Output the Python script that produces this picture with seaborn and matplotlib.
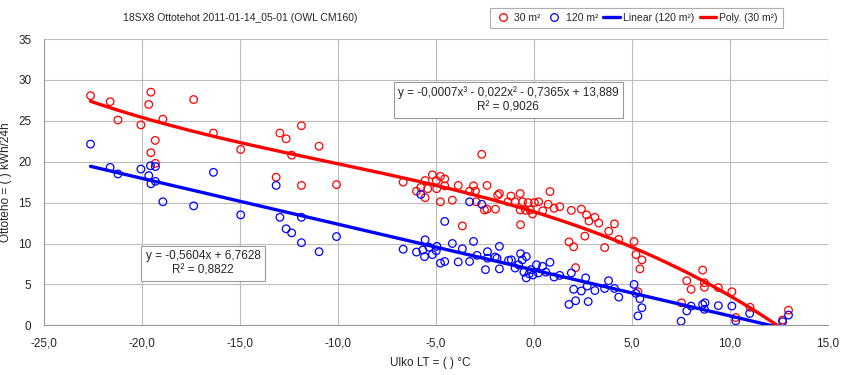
import numpy as np
import pandas as pd
import matplotlib
matplotlib.use("Agg")
import matplotlib.pyplot as plt
from matplotlib.lines import Line2D
import seaborn as sns

# ---------------- data ----------------
red_x = [-22.61, -21.61, -21.21, -19.53, -19.64, -20.04, -18.92, -17.35, -19.31, -19.53, -19.3,
         -16.34, -14.95, -12.95, -12.63, -11.85, -12.35, -10.95, -13.14, -11.85, -10.06,
         -6.66, -5.98, -5.76, -5.54, -5.54, -5.41, -5.17, -4.97, -4.95, -4.76,
         -4.54, -4.54, -4.76, -4.15, -3.85, -3.27, -3.07, -2.97, -2.93, -2.65,
         -2.38, -2.51, -2.38, -1.95, -3.64, -1.84, -1.75, -1.31, -1.16, -0.95,
         -0.69, -0.69, -0.67, -0.57, -0.42, -0.28, -0.18, -0.06, 0.04, 0.25,
         0.46, 0.74, 0.83, 1.04, 1.33, 1.92, 2.43, 2.7, 2.82, 3.12,
         3.32, 2.61, 1.8, 2.04, 3.62, 3.83, 4.12, 4.34, 5.12, 5.22,
         5.52, 5.42, 2.14, 5.32,
         8.62, 7.81, 8.03, 8.71, 8.71, 9.42, 10.11, 7.54, 11.04, 10.31, 12.7, 13.0]
red_y = [28.07, 27.34, 25.1, 28.5, 27.0, 24.5, 25.2, 27.6, 22.6, 21.1, 19.8,
         23.5, 21.5, 23.5, 22.8, 24.4, 20.8, 21.9, 18.1, 17.1, 17.2,
         17.5, 16.4, 16.85, 17.7, 15.6, 16.7, 18.4, 17.7, 16.7, 18.2,
         17.9, 17.05, 15.1, 15.3, 17.1, 16.4, 17.05, 16.4, 15.1, 20.9,
         17.1, 14.1, 14.2, 14.2, 12.15, 15.9, 16.1, 15.1, 15.8, 15.1,
         16.1, 14.1, 12.3, 15.1, 14.05, 15.0, 14.1, 13.6, 15.0, 15.1,
         14.0, 14.8, 16.35, 14.3, 14.5, 14.05, 14.2, 13.5, 12.75, 13.2,
         12.5, 10.9, 10.2, 9.6, 9.5, 11.5, 12.4, 10.5, 10.25, 8.65,
         8.0, 6.9, 7.05, 4.1,
         6.75, 5.45, 4.4, 5.2, 4.65, 4.6, 4.1, 2.75, 2.2, 0.95, 0.65, 1.85]

blue_x = [-22.61, -21.61, -21.21, -20.04, -19.55, -19.3, -19.64, -19.3, -19.53, -18.92, -17.35,
          -16.34, -14.95, -13.14, -12.95, -11.85, -12.63, -12.35, -11.85, -10.95, -10.06,
          -5.76, -4.54, -3.27, -2.65, -6.66, -5.98, -5.66, -5.54, -5.57, -5.34,
          -5.17, -4.97, -4.94, -4.76, -4.54, -4.15, -3.85, -3.64, -3.27, -3.07,
          -2.89, -2.46, -2.36, -2.36, -1.97, -1.87, -1.75, -1.75, -1.28, -1.14,
          -0.95, -0.77, -0.67, -0.58, -0.5, -0.38, -0.38, -0.23, -0.14, -0.04,
          0.14, 0.24, 0.45, 0.62, 0.83, 1.04, 1.33, 1.92, 2.04, 1.8,
          2.14, 2.43, 2.65, 2.73, 2.78, 3.12, 3.62, 3.82, 4.12, 4.34,
          5.12, 5.22, 5.42, 5.52, 5.32,
          7.52, 7.81, 8.03, 8.62, 8.74, 8.71, 9.42, 10.11, 10.31, 11.02, 12.7, 13.0]
blue_y = [22.15, 19.3, 18.5, 19.1, 19.5, 19.4, 18.3, 17.6, 17.3, 15.1, 14.6,
          18.7, 13.5, 17.1, 13.2, 13.2, 11.8, 11.3, 10.1, 9.0, 10.85,
          16.0, 12.7, 15.1, 14.8, 9.3, 8.95, 9.2, 10.45, 8.4, 9.55,
          8.65, 9.1, 9.65, 7.6, 7.8, 10.0, 7.75, 9.35, 7.8, 10.25,
          8.55, 6.8, 9.0, 8.2, 8.35, 8.2, 9.65, 6.9, 7.95, 8.0,
          7.0, 7.4, 8.75, 8.0, 6.5, 8.4, 5.8, 6.3, 6.8, 6.15,
          7.4, 6.4, 7.2, 6.5, 7.7, 5.9, 6.1, 6.4, 4.4, 2.55,
          3.0, 4.2, 5.8, 4.8, 2.9, 4.25, 4.5, 5.45, 4.5, 3.45,
          5.0, 3.9, 3.25, 2.15, 1.15,
          0.5, 1.75, 2.35, 2.55, 2.75, 1.95, 2.4, 2.35, 0.55, 1.45, 0.45, 1.25]

# trendline coefficients (highest power first), as printed on the chart
poly_coef_30 = [-0.0007, -0.022, -0.7365, 13.889]
lin_coef_120 = [-0.5604, 6.7628]

x_ticks = [-25, -20, -15, -10, -5, 0, 5, 10, 15]
x_tick_labels = ["-25,0", "-20,0", "-15,0", "-10,0", "-5,0", "0,0", "5,0", "10,0", "15,0"]
y_ticks = [0, 5, 10, 15, 20, 25, 30, 35]

title = "18SX8 Ottotehot 2011-01-14_05-01 (OWL CM160)"
eq_red = "y = -0,0007x³ - 0,022x² - 0,7365x + 13,889\nR² = 0,9026"
eq_blue = "y = -0,5604x + 6,7628\nR² = 0,8822"

# ---------------- style ----------------
sns.set_style("whitegrid", {"grid.color": "#bdbdbd", "axes.edgecolor": "#9a9a9a"})
plt.rcParams["font.family"] = ["Liberation Sans", "DejaVu Sans"]
plt.rcParams["font.size"] = 8.5

fig = plt.figure(figsize=(8.44, 3.75), dpi=100)
W, H = 844, 375
L, R, T, B = 43.7, 827.7, 39.0, 325.3
ax = fig.add_axes([L / W, 1 - B / H, (R - L) / W, (B - T) / H])

df_red = pd.DataFrame({"x": red_x, "y": red_y})
df_blue = pd.DataFrame({"x": blue_x, "y": blue_y})

# trend lines
xr = np.linspace(min(red_x), max(red_x), 300)
xb = np.linspace(min(blue_x), max(blue_x), 300)
df_poly = pd.DataFrame({"x": xr, "y": np.polyval(poly_coef_30, xr)})
df_lin = pd.DataFrame({"x": xb, "y": np.polyval(lin_coef_120, xb)})

sns.scatterplot(data=df_red, x="x", y="y", ax=ax, marker="o", s=30,
                facecolors="none", edgecolor="#ff0000", linewidth=0.9, zorder=3)
sns.scatterplot(data=df_blue, x="x", y="y", ax=ax, marker="o", s=30,
                facecolors="none", edgecolor="#0000ff", linewidth=0.9, zorder=3)
sns.lineplot(data=df_lin, x="x", y="y", ax=ax, color="#0000ff", linewidth=2.4, zorder=4)
sns.lineplot(data=df_poly, x="x", y="y", ax=ax, color="#ff0000", linewidth=2.4, zorder=4)

ax.set_xlim(-25, 15)
ax.set_ylim(0, 35)
ax.set_xticks(x_ticks)
ax.set_xticklabels(x_tick_labels)
ax.set_yticks(y_ticks)
ax.set_yticklabels([str(v) for v in y_ticks])
ax.grid(True, color="#bdbdbd", linewidth=0.8)
ax.tick_params(axis="both", length=3, color="#9a9a9a", labelsize=8.5, pad=6)
for s in ["top", "right"]:
    ax.spines[s].set_visible(False)
for s in ["left", "bottom"]:
    ax.spines[s].set_color("#9a9a9a")
    ax.spines[s].set_linewidth(0.8)

ax.set_xlabel("Ulko LT = ( ) °C", fontsize=8.5)
ax.set_ylabel("Ottoteho = ( ) kWh/24h", fontsize=8.5)
ax.xaxis.set_label_coords((430 - L) / (R - L), -(357 - B) / (B - T))
ax.yaxis.set_label_coords(-(L - 12) / (R - L), 0.5)

box = dict(boxstyle="square,pad=0.35", facecolor="white", edgecolor="#9a9a9a", linewidth=0.8)
ax.text(-1.3, 27.55, eq_red, ha="center", va="center", multialignment="center",
        fontsize=8.5, bbox=box, zorder=5, linespacing=1.3)
ax.text(-16.87, 7.55, eq_blue, ha="center", va="center", multialignment="center",
        fontsize=8.5, bbox=box, zorder=5, linespacing=1.3)

fig.text(240 / W, 1 - 18 / H, title, ha="center", va="center", fontsize=7.5)

handles = [
    Line2D([], [], marker="o", linestyle="none", markerfacecolor="none",
           markeredgecolor="#ff0000", markersize=5.5, markeredgewidth=0.9),
    Line2D([], [], marker="o", linestyle="none", markerfacecolor="none",
           markeredgecolor="#0000ff", markersize=5.5, markeredgewidth=0.9),
    Line2D([], [], color="#0000ff", linewidth=2.4),
    Line2D([], [], color="#ff0000", linewidth=2.4),
]
labels = ["30 m²", "120 m²", "Linear (120 m²)", "Poly. (30 m²)"]
leg = fig.legend(handles, labels, loc="center left", bbox_to_anchor=(490 / W, 1 - 18 / H),
                 ncol=4, frameon=True, fancybox=False, fontsize=7.5,
                 handlelength=1.6, handletextpad=0.3, columnspacing=0.5,
                 borderpad=0.45, borderaxespad=0)
leg.get_frame().set_edgecolor("#9a9a9a")
leg.get_frame().set_linewidth(0.8)

fig.savefig("out.png", dpi=100)
